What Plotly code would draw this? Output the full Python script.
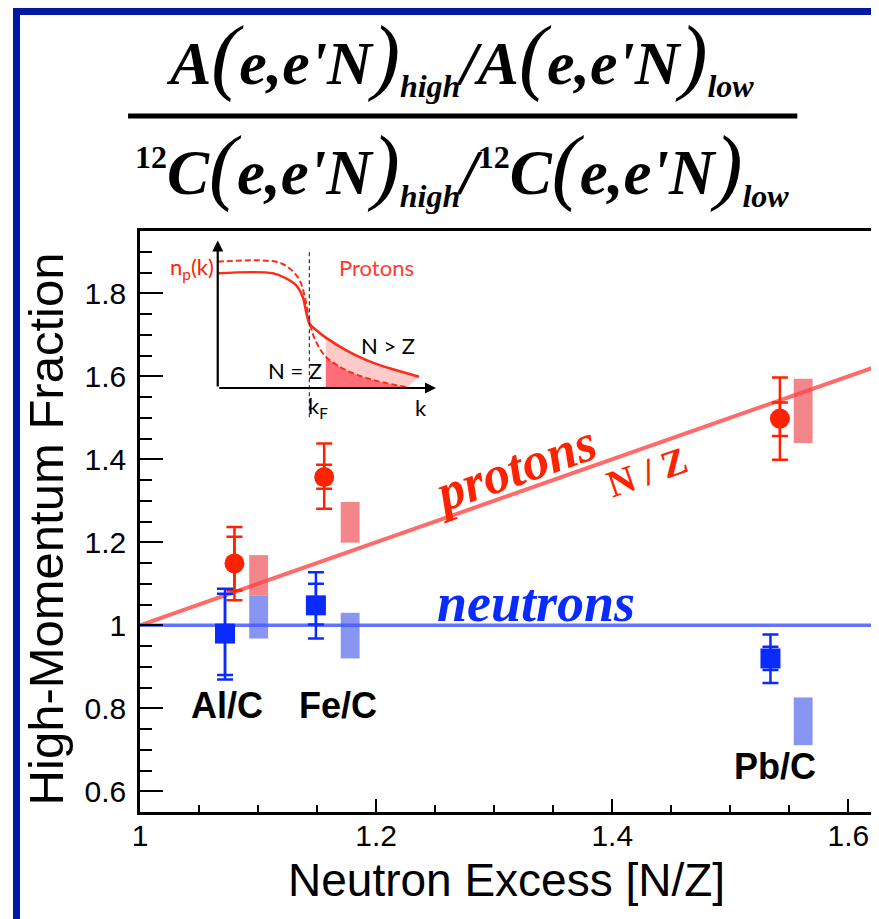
import plotly.graph_objects as go

# ---------------- data ----------------
nucleus_labels = ["Al/C", "Fe/C", "Pb/C"]

proton_x = [1.080, 1.156, 1.542]
proton_y = [1.149, 1.357, 1.498]
proton_tot_plus = [0.088, 0.081, 0.099]
proton_tot_minus = [0.089, 0.076, 0.099]
proton_stat_plus = [0.064, 0.030, 0.039]
proton_stat_minus = [0.065, 0.028, 0.042]

neutron_x = [1.072, 1.149, 1.534]
neutron_y = [0.980, 1.048, 0.920]
neutron_tot_plus = [0.108, 0.080, 0.058]
neutron_tot_minus = [0.111, 0.080, 0.059]
neutron_stat_plus = [0.096, 0.052, 0.028]
neutron_stat_minus = [0.100, 0.046, 0.028]

band_x = [1.1005, 1.178, 1.5617]
proton_band_lo = [1.071, 1.199, 1.439]
proton_band_hi = [1.169, 1.297, 1.594]
neutron_band_lo = [0.968, 0.920, 0.711]
neutron_band_hi = [1.071, 1.030, 0.826]

nz_line_x = [1.0, 1.62]
proton_line_y = [1.0, 1.62]
neutron_line_y = [1.0, 1.0]

# inset schematic momentum distributions (k, n_p(k))
solid_k = [0.0, 0.255, 0.316, 0.362, 0.393, 0.409, 0.424, 0.455, 0.50, 0.593, 0.670, 0.746, 0.823, 0.931]
solid_n = [0.786, 0.786, 0.751, 0.705, 0.625, 0.523, 0.443, 0.397, 0.345, 0.260, 0.203, 0.158, 0.123, 0.077]
dashed_k = [0.0, 0.270, 0.332, 0.378, 0.401, 0.416, 0.432, 0.455, 0.50, 0.577, 0.670, 0.762, 0.877]
dashed_n = [0.865, 0.865, 0.820, 0.740, 0.637, 0.523, 0.409, 0.317, 0.214, 0.135, 0.077, 0.039, 0.005]
k_fermi = 0.424
k_fill_start = 0.50

y_ticks = [0.6, 0.8, 1.0, 1.2, 1.4, 1.6, 1.8]
x_ticks = [1.0, 1.2, 1.4, 1.6]

# ---------------- geometry (page has an 8px body margin) ----------------
W, H = 871, 911
L, R, T, B = 140, 875, 231, 812      # plot box in reference-picture pixels


def px(x):
    return (x - L) / (R - L)


def py(y):
    return (B - y) / (B - T)


RED = "#ff2200"
BLUE = "#0a2bff"
fig = go.Figure()

# systematic bands
fig.add_trace(go.Bar(x=band_x, y=[h - l for h, l in zip(proton_band_hi, proton_band_lo)],
                     base=proton_band_lo, width=0.016, marker=dict(color="#f3868b", line_width=0),
                     showlegend=False, hoverinfo="skip"))
fig.add_trace(go.Bar(x=band_x, y=[h - l for h, l in zip(neutron_band_hi, neutron_band_lo)],
                     base=neutron_band_lo, width=0.016, marker=dict(color="#8a95f2", line_width=0),
                     showlegend=False, hoverinfo="skip"))

# N/Z and neutron lines
fig.add_trace(go.Scatter(x=nz_line_x, y=proton_line_y, mode="lines",
                         line=dict(color="rgba(255,70,70,0.8)", width=4), showlegend=False))
fig.add_trace(go.Scatter(x=nz_line_x, y=neutron_line_y, mode="lines",
                         line=dict(color="rgba(70,90,255,0.85)", width=3.5), showlegend=False))

# protons: total and stat error bars
fig.add_trace(go.Scatter(x=proton_x, y=proton_y, mode="markers",
                         marker=dict(size=2, color="rgba(0,0,0,0)"),
                         error_y=dict(type="data", symmetric=False, array=proton_tot_plus,
                                      arrayminus=proton_tot_minus, color=RED, thickness=2.5, width=8),
                         showlegend=False))
fig.add_trace(go.Scatter(x=proton_x, y=proton_y, mode="markers",
                         marker=dict(size=20, color=RED, symbol="circle"),
                         error_y=dict(type="data", symmetric=False, array=proton_stat_plus,
                                      arrayminus=proton_stat_minus, color=RED, thickness=2.5, width=8),
                         showlegend=False))
# neutrons
fig.add_trace(go.Scatter(x=neutron_x, y=neutron_y, mode="markers",
                         marker=dict(size=2, color="rgba(0,0,0,0)"),
                         error_y=dict(type="data", symmetric=False, array=neutron_tot_plus,
                                      arrayminus=neutron_tot_minus, color=BLUE, thickness=2.5, width=8),
                         showlegend=False))
fig.add_trace(go.Scatter(x=neutron_x, y=neutron_y, mode="markers",
                         marker=dict(size=20, color=BLUE, symbol="square"),
                         error_y=dict(type="data", symmetric=False, array=neutron_stat_plus,
                                      arrayminus=neutron_stat_minus, color=BLUE, thickness=2.5, width=8),
                         showlegend=False))

# ---------------- inset ----------------
dk = [k for k in dashed_k if k >= k_fill_start]
dn = [n for k, n in zip(dashed_k, dashed_n) if k >= k_fill_start]
sk = [k for k in solid_k if k >= k_fill_start]
sn = [n for k, n in zip(solid_k, solid_n) if k >= k_fill_start]
fig.add_trace(go.Scatter(x=dk, y=dn, xaxis="x2", yaxis="y2", mode="lines", fill="tozeroy",
                         fillcolor="#ff6e78", line=dict(width=0, shape="spline"), showlegend=False))
fig.add_trace(go.Scatter(x=sk, y=sn, xaxis="x2", yaxis="y2", mode="lines", fill="tonexty",
                         fillcolor="#ffcaca", line=dict(width=0, shape="spline"), showlegend=False))
fig.add_trace(go.Scatter(x=dashed_k, y=dashed_n, xaxis="x2", yaxis="y2", mode="lines",
                         line=dict(color="#ff2a1a", width=2, dash="6px,3px", shape="spline"),
                         showlegend=False))
fig.add_trace(go.Scatter(x=solid_k, y=solid_n, xaxis="x2", yaxis="y2", mode="lines",
                         line=dict(color="#ff2a1a", width=2.5, shape="spline"), showlegend=False))

annotations = []
# inset axes arrows
annotations.append(dict(x=1.01, y=0, ax=0, ay=0, xref="x2", yref="y2", axref="x2", ayref="y2",
                        showarrow=True, arrowhead=2, arrowsize=1, arrowwidth=2.2, arrowcolor="black", text=""))
annotations.append(dict(x=0, y=1.01, ax=0, ay=0, xref="x2", yref="y2", axref="x2", ayref="y2",
                        showarrow=True, arrowhead=2, arrowsize=1, arrowwidth=2.2, arrowcolor="black", text=""))

IF = "Lato"
inset_texts = [
    ("n<sub>p</sub>(k)", 216, 268, "right", RED),
    ("Protons", 338, 267, "left", "#ff3b2f"),
    ("N > Z", 360, 345, "left", "black"),
    ("N = Z", 325, 370, "right", "black"),
    ("k<sub>F</sub>", 307, 407, "left", "black"),
    ("k", 414, 407, "left", "black"),
]
for t, x, y, xa, c in inset_texts:
    annotations.append(dict(text=t, x=px(x), y=py(y), xref="paper", yref="paper", showarrow=False,
                            xanchor=xa, yanchor="middle", font=dict(family=IF, size=22, color=c)))

# in-plot labels
label_pos = [(1.0735, 0.807), (1.1673, 0.807), (1.538, 0.660)]
for lab, (x, y) in zip(nucleus_labels, label_pos):
    annotations.append(dict(text=f"<b>{lab}</b>", x=x, y=y, xref="x", yref="y", showarrow=False,
                            xanchor="center", yanchor="middle",
                            font=dict(family="Liberation Sans", size=36, color="black")))

angle = -19.3
annotations.append(dict(text="<b><i>protons</i></b>", x=1.3169, y=1.378, xref="x", yref="y",
                        showarrow=False, textangle=angle, xanchor="center", yanchor="middle",
                        font=dict(family="Liberation Serif", size=53, color=RED)))
annotations.append(dict(text="<b>N / Z</b>", x=1.4292, y=1.369, xref="x", yref="y",
                        showarrow=False, textangle=angle, xanchor="center", yanchor="middle",
                        font=dict(family="Liberation Serif", size=38, color=RED)))
annotations.append(dict(text="<b><i>neutrons</i></b>", x=1.3354, y=1.053, xref="x", yref="y",
                        showarrow=False, xanchor="center", yanchor="middle",
                        font=dict(family="Liberation Serif", size=54, color=BLUE)))

# axis titles
annotations.append(dict(text="High-Momentum Fraction", x=px(46), y=py(529), xref="paper", yref="paper",
                        showarrow=False, textangle=-90, xanchor="center", yanchor="middle",
                        font=dict(family="Liberation Sans", size=49, color="black")))
annotations.append(dict(text="Neutron Excess [N/Z]", x=px(508), y=py(880), xref="paper", yref="paper",
                        showarrow=False, xanchor="center", yanchor="middle",
                        font=dict(family="Liberation Sans", size=46, color="black")))

# title fraction


def big(s):
    return f'<span style="font-size:84px;font-weight:normal">{s}</span>'


def sub(s):
    return f'<sub><span style="font-size:32px">{s}</span></sub>'


def sup(s):
    return f'<sup><span style="font-size:32px;font-style:normal">{s}</span></sup>'


num = f"<b><i>A{big('(')}e,e'N{big(')')}{sub('high')}/A{big('(')}e,e'N{big(')')}{sub('low')}</i></b>"
den = (f"<b><i>{sup('12')}C{big('(')}e,e'N{big(')')}{sub('high')}/"
       f"{sup('12')}C{big('(')}e,e'N{big(')')}{sub('low')}</i></b>")
annotations.append(dict(text=num, x=px(461), y=py(57), xref="paper", yref="paper", showarrow=False,
                        xanchor="center", yanchor="middle",
                        font=dict(family="Liberation Serif", size=62, color="black")))
annotations.append(dict(text=den, x=px(463), y=py(166), xref="paper", yref="paper", showarrow=False,
                        xanchor="center", yanchor="middle",
                        font=dict(family="Liberation Serif", size=63, color="black")))

shapes = [
    dict(type="line", xref="paper", yref="paper", x0=px(128), x1=px(800), y0=py(116), y1=py(116),
         line=dict(color="black", width=5)),
    dict(type="line", xref="x2", yref="y2", x0=k_fermi, x1=k_fermi, y0=-0.2, y1=0.945,
         line=dict(color="#333333", width=1.2, dash="4px,3px")),
    dict(type="rect", xref="paper", yref="paper", x0=px(16), x1=px(905), y0=py(11.5), y1=py(945),
         line=dict(color="#0019a0", width=7)),
]

fig.update_layout(
    width=W, height=H,
    margin=dict(l=L - 8, r=(879 - R) - 0, t=T - 8, b=(919 - B) - 0, pad=0),
    paper_bgcolor="white", plot_bgcolor="white",
    barmode="overlay", showlegend=False,
    font=dict(family="Liberation Sans", color="black"),
    annotations=annotations, shapes=shapes,
    xaxis=dict(range=[1.0, 1.62], tickvals=x_ticks, ticks="inside", ticklen=13, tickwidth=1.5,
               tickcolor="black", showline=True, linecolor="black", linewidth=2.5, mirror=True,
               showgrid=False, zeroline=False, tickfont=dict(size=30, family="Liberation Sans"),
               ticklabelstandoff=-5,
               minor=dict(dtick=0.05, tick0=1.0, ticks="inside", ticklen=7, tickwidth=1.5, tickcolor="black")),
    yaxis=dict(range=[0.55, 1.95], tickvals=y_ticks, ticks="inside", ticklen=23, tickwidth=1.5,
               tickcolor="black", showline=True, linecolor="black", linewidth=2.5, mirror=True,
               showgrid=False, zeroline=False, tickfont=dict(size=30, family="Liberation Sans"),
               ticklabelstandoff=5,
               minor=dict(dtick=0.05, tick0=0.6, ticks="inside", ticklen=12, tickwidth=1.5, tickcolor="black")),
    xaxis2=dict(domain=[px(207.2), px(445.9)], range=[-0.05, 1.05], anchor="y2", visible=False),
    yaxis2=dict(domain=[py(424.5), py(234.7)], range=[-0.25, 1.05], anchor="x2", visible=False),
)

fig.write_html("out.html")
